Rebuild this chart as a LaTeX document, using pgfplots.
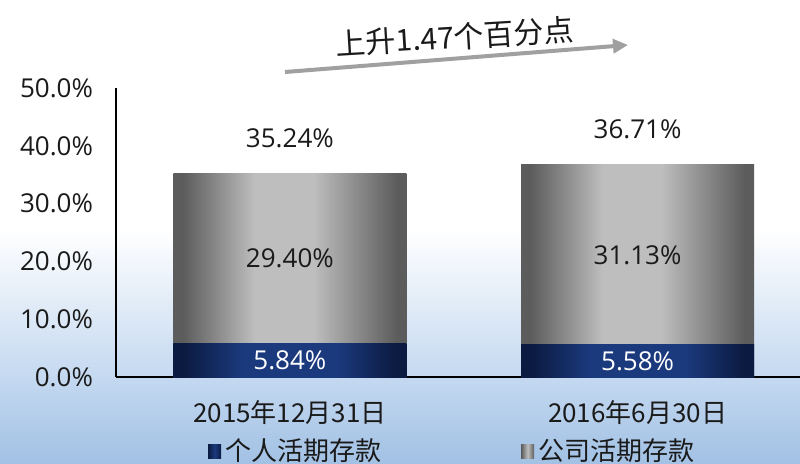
\documentclass[border=0pt]{standalone}
\usepackage{pgfplots}
\pgfplotsset{compat=1.18}
\usetikzlibrary{arrows.meta}
\usepackage{fontspec}
\setmainfont{Open Sans}
\newfontfamily\cjk{Noto Sans CJK SC}
\definecolor{gdark}{HTML}{5C5C5C}
\definecolor{glight}{HTML}{BEBEBE}
\definecolor{ndark}{HTML}{0B1A40}
\definecolor{nlight}{HTML}{1B3A7E}
\definecolor{bgblue}{HTML}{C3D8F0}
\definecolor{bgblue2}{HTML}{A2C1E4}
\definecolor{arrowgray}{HTML}{A0A0A0}
\definecolor{txt}{HTML}{1A1A1A}

\pgfdeclarehorizontalshading{greyshade}{100bp}{color(0bp)=(gdark); color(27bp)=(gdark);
  color(42.5bp)=(glight); color(55bp)=(glight); color(73bp)=(gdark); color(100bp)=(gdark)}
\pgfdeclarehorizontalshading{navyshade}{100bp}{color(0bp)=(ndark); color(27bp)=(ndark);
  color(40bp)=(nlight); color(60bp)=(nlight); color(73bp)=(ndark); color(100bp)=(ndark)}

\pgfplotstableread{
x  y      label
0  2.92   5.84
1  2.79   5.58
}\navylabels
\pgfplotstableread{
x  y      label
0  20.54  29.40
1  21.145 31.13
}\greylabels
\pgfplotstableread{
x  y      label
0  41.34  35.24
1  42.81  36.71
}\totallabels

\pgfplotsset{
  common/.style={
    at={(58pt,43pt)}, anchor=south west,
    scale only axis, width=342pt, height=144.5pt,
    xmin=-0.5, xmax=1.467, ymin=0, ymax=50,
  },
  navybar/.style={ybar, bar width=0.67, bar shift=0pt, draw=none,
    shading=navyshade, forget plot},
  greybar/.style={ybar, bar width=0.67, bar shift=0pt, draw=none,
    shading=greyshade, forget plot},
}

\begin{document}
\begin{tikzpicture}
\path[use as bounding box] (0,0) rectangle (400pt,231.5pt);
\fill[white] (0,116.5pt) rectangle (400pt,231.5pt);
\shade[top color=white, bottom color=bgblue] (0,41.5pt) rectangle (400pt,116.6pt);
\shade[top color=bgblue, bottom color=bgblue2] (0,0) rectangle (400pt,41.6pt);

\begin{axis}[
  common,
  axis lines*=left,
  axis line style={line width=1pt, black},
  major tick length=0pt,
  ytick={0,10,20,30,40,50},
  yticklabels={0.0\%,10.0\%,20.0\%,30.0\%,40.0\%,50.0\%},
  xtick={0,1},
  xticklabels={{2015年12月31日},{2016年6月30日}},
  yticklabel style={font=\fontsize{13pt}{15pt}\selectfont, text=txt, xshift=-8pt},
  xticklabel style={font=\cjk\fontsize{13pt}{15pt}\selectfont, text=txt, anchor=center, yshift=-17.8pt},
  legend image code/.code={\fill[#1] (0pt,-3.5pt) rectangle (6.5pt,3.5pt);},
  legend columns=2,
  legend style={at={(0.493,0)}, anchor=center, yshift=-37pt, draw=none, fill=none,
    font=\cjk\fontsize{13pt}{15pt}\selectfont, text=txt,
    /tikz/every even column/.append style={column sep=68pt}},
]
% 公司活期存款 (stacked on top of 个人活期存款): bar drawn to the total
\addplot[greybar] coordinates {(0,35.24)};
\addplot[greybar] coordinates {(1,36.71)};
% 个人活期存款
\addplot[navybar] coordinates {(0,5.84)};
\addplot[navybar] coordinates {(1,5.58)};

\addlegendimage{draw=none, left color=ndark, right color=ndark, middle color=nlight}
\addlegendentry{个人活期存款}
\addlegendimage{draw=none, left color=gdark, right color=gdark, middle color=glight}
\addlegendentry{公司活期存款}
\end{axis}

\begin{axis}[
  common, hide axis,
  nodes near coords={\pgfplotspointmeta\%},
  point meta=explicit symbolic,
]
\addplot[draw=none, nodes near coords style={anchor=center, text=white, font=\fontsize{13pt}{15pt}\selectfont}]
  table[x=x, y=y, meta=label] {\navylabels};
\addplot[draw=none, nodes near coords style={anchor=center, text=txt, font=\fontsize{13pt}{15pt}\selectfont}]
  table[x=x, y=y, meta=label] {\greylabels};
\addplot[draw=none, nodes near coords style={anchor=center, text=txt, font=\fontsize{13pt}{15pt}\selectfont}]
  table[x=x, y=y, meta=label] {\totallabels};
\end{axis}

\draw[arrowgray, line width=2pt, -{Triangle[length=7.5pt,width=7pt]}] (142.5pt,195.5pt) -- (314pt,209pt);
\node[rotate=3.5, text=txt, font=\cjk\fontsize{15pt}{17pt}\selectfont] at (227.5pt,213pt) {上升1.47个百分点};
\end{tikzpicture}
\end{document}
